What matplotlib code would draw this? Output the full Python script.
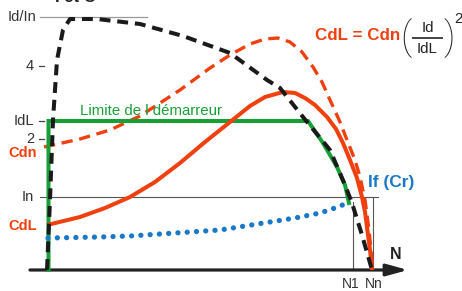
import matplotlib
matplotlib.use("Agg")
import matplotlib.pyplot as plt

plt.rcParams['font.family'] = ['Liberation Sans', 'DejaVu Sans']

# ---- data (speed N, value) ----
id_n = [3, 6, 9, 13, 19, 26, 53, 96, 139, 186, 223, 236, 259, 286, 301, 308, 318, 328]
id_v = [0, 70, 150, 210, 240, 251, 251, 246, 234, 217, 190, 182, 153, 120, 85, 67, 35, 0]

cdn_n = [0, 36, 66, 96, 136, 166, 186, 206, 221, 234, 246, 258, 269, 278, 286, 296, 303, 311, 316, 321, 325, 329]
cdn_v = [123, 131, 140, 154, 180, 202, 215, 226, 231, 232, 228, 218, 203, 188, 170, 148, 130, 110, 93, 70, 40, 0]

cdl_n = [3, 36, 61, 86, 111, 136, 161, 186, 206, 221, 239, 251, 261, 271, 283, 292, 299, 306, 313, 318, 321, 323, 326, 328]
cdl_v = [45, 53, 62, 73, 88, 107, 128, 148, 164, 173, 178, 177, 172, 165, 153, 141, 127, 110, 92, 73, 58, 43, 20, 0]

lim_n = [4.5, 4.5, 264, 279, 293, 301, 305]
lim_v = [0, 149, 149, 127, 103, 85, 67]

if_n = [4, 31, 56, 86, 116, 146, 176, 201, 226, 251, 276, 291, 306]
if_v = [32, 32.5, 33, 34, 36, 38, 40, 44, 48, 52, 57, 62, 68]

ytick_vals = [253, 204, 149, 131, 73]
ytick_labels = ['Id/In', '4', 'IdL', '2', 'In']
xtick_vals = [307, 330]
xtick_labels = ['N1', 'Nn']

RED = '#F0400F'
GREEN = '#18A038'
BLUE = '#1A78C8'
BLACK = '#1a1a1a'
GRAY = '#555555'
DARK = '#222222'

fig = plt.figure(figsize=(4.62, 2.91), dpi=100)
ax = fig.add_axes([0, 0, 1, 1])
ax.set_xlim(-44, 418)
ax.set_ylim(-21, 270)
ax.axis('off')

# guide lines
ax.plot([-4, 103], [ytick_vals[0]] * 2, color='#9a9a9a', lw=0.9, zorder=1)
ax.plot([-4, 334], [ytick_vals[4]] * 2, color=GRAY, lw=0.8, zorder=1)
ax.plot([if_n[-1] + 3, if_n[-1] + 3], [0, if_v[-1]], color=GRAY, lw=0.8, zorder=1)
ax.plot([cdn_n[-1], cdn_n[-1]], [0, ytick_vals[4]], color=GRAY, lw=0.8, zorder=1)
for v in ytick_vals[1:4]:
    ax.plot([-5, 0], [v, v], color='#444444', lw=0.9, zorder=1)

# axes with arrows
ax.annotate('', xy=(364, 0), xytext=(-14, 0),
            arrowprops=dict(arrowstyle='-|>,head_length=0.8,head_width=0.22',
                            lw=2.3, color=DARK, mutation_scale=16,
                            shrinkA=0, shrinkB=0), zorder=2)
ax.annotate('', xy=(0, 276), xytext=(0, -13),
            arrowprops=dict(arrowstyle='-|>,head_length=0.8,head_width=0.22',
                            lw=2.3, color=DARK, mutation_scale=16,
                            shrinkA=0, shrinkB=0), zorder=2)

# curves
ax.plot(cdn_n, cdn_v, color=RED, lw=2.4, ls=(0, (3.4, 2.0)), zorder=3)
ax.plot(lim_n, lim_v, color=GREEN, lw=2.9, zorder=4, solid_joinstyle='miter')
ax.plot(cdl_n, cdl_v, color=RED, lw=2.9, zorder=5, solid_capstyle='butt')
ax.plot(id_n, id_v, color=BLACK, lw=2.9, ls=(0, (2.7, 1.7)), zorder=6)
ax.plot(if_n, if_v, color=BLUE, lw=3.8, ls=(0, (0.01, 1.75)),
        dash_capstyle='round', zorder=7)

# tick labels
for v, lab in zip(ytick_vals, ytick_labels):
    xr = -8 if lab == 'Id/In' else -10
    ax.text(xr, v, lab, ha='right', va='center', fontsize=10.5, color='#333333')
for v, lab in zip(xtick_vals, xtick_labels):
    ax.text(v, -18, lab, ha='center', va='baseline', fontsize=10, color='#333333')

# annotations
ax.text(11, 273, 'I et C', ha='left', va='center', fontsize=12,
        fontweight='bold', color=DARK)
ax.text(352, 11, 'N', ha='center', va='baseline', fontsize=11.5,
        fontweight='bold', color=DARK)
ax.text(107, 155, 'Limite de l démarreur', ha='center', va='baseline',
        fontsize=10.8, color=GREEN)
ax.text(-7, 113, 'Cdn', ha='right', va='baseline', fontsize=10.5,
        fontweight='bold', color=RED)
ax.text(-7, 40, 'CdL', ha='right', va='baseline', fontsize=10.5,
        fontweight='bold', color=RED)
ax.text(324, 83, 'If (Cr)', ha='left', va='baseline', fontsize=12.5,
        fontweight='bold', color=BLUE)
ax.text(271, 230, 'CdL = Cdn', ha='left', va='baseline', fontsize=12.2,
        fontweight='bold', color=RED)

# formula (Id / IdL)^2
ax.text(383.5, 238, 'Id', ha='center', va='baseline', fontsize=10.8, color=DARK)
ax.text(383.5, 217, 'IdL', ha='center', va='baseline', fontsize=10.8, color=DARK)
ax.plot([368, 399], [232, 232], color=DARK, lw=1.2, solid_capstyle='butt')
ax.text(362, 232, '(', ha='center', va='center', fontsize=27, color=DARK,
        family=['Roboto', 'Liberation Sans'], fontweight='light')
ax.text(405, 232, ')', ha='center', va='center', fontsize=27, color=DARK,
        family=['Roboto', 'Liberation Sans'], fontweight='light')
ax.text(410.5, 247, '2', ha='left', va='baseline', fontsize=11, color=DARK)

fig.savefig('out.png', dpi=100)
